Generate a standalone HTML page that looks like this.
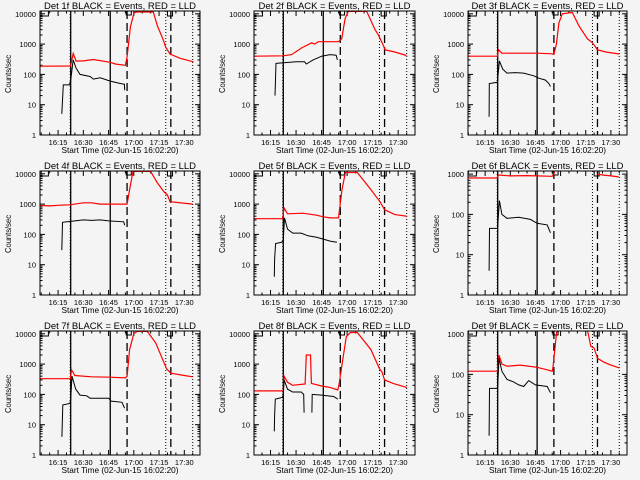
<!DOCTYPE html>
<html><head><meta charset="utf-8"><style>
html,body{margin:0;padding:0;background:#f4f4f4;}
svg{display:block;font-family:"Liberation Sans",sans-serif;}
</style></head><body>
<svg id="chart" width="640" height="480" viewBox="0 0 640 480">
<rect x="0" y="0" width="640" height="480" fill="#f4f4f4"/>
</svg>
<script>
// ---- data (time in minutes after 16:00, values in counts/sec) ----
const detectors = ["1f","2f","3f","4f","5f","6f","7f","8f","9f"];
const tickTimes = [15,30,45,60,75,90];
const tickLabels = ["16:15","16:30","16:45","17:00","17:15","17:30"];
const markerSolid = [22.5,46];
const markerDashed = [56,82];
const markerDotted = [22.2,79,95];
const decadesP = [4,4,4,4,4,3,4,4,3];

const redT1=[4.3,22,22.5,24,25.7,30,36,46,49,55,56,58,60,61,71.6,74,77.6,78.9,81.5,87.5,95.4];
const redV1=[186,190,200,490,275,280,310,250,220,200,380,3700,10000,11500,11500,4000,1350,800,470,340,260];
const blkT1=[17.2,18.1,21.7,22.5,24,25.7,28,34,36,40,46,52,54.4,54.6];
const blkV1=[5,45,45,65,300,160,100,85,70,77,60,50,47,30];

const redT2=[5.3,22.5,27.4,33.3,39.2,41,43,54.9,56.8,58.8,60.7,71.5,76.4,78.4,81.3,82.3,88,94.9];
const redV2=[400,410,450,750,1100,1000,1200,1200,1500,7000,12000,12000,3000,2000,900,650,550,420];
const blkT2=[17.6,18.2,22,30,35,36,40,45,50,53.5,54.3];
const blkV2=[20,230,240,260,260,220,300,400,450,430,300];

const redT3=[4.8,22.3,23,25,46,55,56,57.5,59,61,67,71,76,79,82,87,95];
const redV3=[400,400,650,500,500,480,460,1000,5000,10000,11000,4000,1500,1100,650,550,470];
const blkT3=[17.4,17.5,22.3,22.5,23.5,25.5,28,33,38,44,47,51,53,54];
const blkV3=[4,50,55,70,280,150,110,115,110,90,75,65,50,40];

const redT4=[4.3,10,16,22,30,35,40,56,57.5,59.5,70,74,78,80,81.5,95];
const redV4=[900,870,920,950,1100,1100,1000,1000,3000,12000,12000,5000,2500,2000,1200,1000];
const blkT4=[17.2,17.6,25,30,35,40,45,54,54.6];
const blkV4=[30,250,280,300,290,300,280,260,200];

const redT5=[5.3,22,22.3,23,25,34,42,46,50,55,55.2,57,59,66,74,78,79.3,82,88,95];
const redV5=[330,330,400,750,480,500,430,380,350,350,450,3000,11000,11000,3000,1500,1200,650,450,400];
const blkT5=[17.2,17.4,18,21.5,22.5,23.2,25,28,33,37,42,46,50,54];
const blkV5=[4,15,50,55,65,350,150,110,110,90,80,70,60,55];

const redT6=[4.8,22,23,30,40,55,56,56.5,null,81.9,85,90,94.6];
const redV6=[800,800,950,900,920,880,1000,1300,null,1000,950,900,850];
const blkT6=[17.4,17.6,22.3,22.5,23.5,25,28,35,42,46,52,54];
const blkV6=[4,45,45,50,220,100,80,85,75,60,55,35];

const redT7=[4.3,22.3,23,25,35,46,55,56,57.5,60,62,68,73,77,79.5,82,90,95];
const redV7=[330,330,650,420,380,370,350,400,3000,10000,12000,12000,5000,1500,700,500,420,380];
const blkT7=[17.3,17.8,22,22.5,23.3,25.5,28,32,34,45,46.5,53,54.5];
const blkV7=[4,45,50,70,400,150,95,90,75,75,60,55,35];

const redT8=[5.3,22,22.5,23,25,28,35,35.3,36,38.5,39,45,50,54.5,55.2,57.5,59.5,62,66,74,79,80.5,82,87,95];
const redV8=[130,130,140,400,250,200,220,220,2000,2000,230,190,170,140,200,1500,8000,11000,11000,3000,700,550,300,230,170];
const blkT8=[17.2,17.4,17.8,22,22.5,23,25,28,33,34.5,34.7,null,39.3,39.5,45,52,54.5];
const blkV8=[6,20,70,80,100,300,150,120,120,100,25,null,25,100,95,85,70];

const redT9=[4.8,22.3,22.5,23.3,25,28,36,46,52,55,55.5,57.5,58,null,75.8,76.5,78,80,82,86,90,95];
const redV9=[120,120,130,300,180,160,170,150,130,120,150,1000,1300,null,1300,1000,500,450,250,200,170,145];
const blkT9=[17.4,17.6,22,22.5,23.3,25,28,32,35,38,41,45,52,54];
const blkV9=[3,45,45,50,250,120,75,65,55,50,70,55,50,35];

const redTimes=[redT1,redT2,redT3,redT4,redT5,redT6,redT7,redT8,redT9];
const redVals=[redV1,redV2,redV3,redV4,redV5,redV6,redV7,redV8,redV9];
const blkTimes=[blkT1,blkT2,blkT3,blkT4,blkT5,blkT6,blkT7,blkT8,blkT9];
const blkVals=[blkV1,blkV2,blkV3,blkV4,blkV5,blkV6,blkV7,blkV8,blkV9];

// ---- layout ----
const colLeft=[40,254,468], colRight=[200,415,627], colTmin=[4.26,5.29,4.79];
const svg=document.getElementById('chart');
const NS='http://www.w3.org/2000/svg';
function mk(tag,attrs,parent){const e=document.createElementNS(NS,tag);for(const k in attrs)e.setAttribute(k,attrs[k]);(parent||svg).appendChild(e);return e;}

for(let p=0;p<9;p++){
  const col=p%3,row=Math.floor(p/3),oy=row*160;
  const L=colLeft[col],R=colRight[col],T=oy+11,B=oy+135;
  const tmin=colTmin[col],tmax=tmin+(R-L)/((col==1)?1.702:(col==0?1.683:1.677));
  const dec=decadesP[p];
  const perDec=(dec==4)?30.3:40.3;
  const xs=t=>L+(t-tmin)/(tmax-tmin)*(R-L);
  const ys=v=>B-Math.log10(v)*perDec;
  const g=mk('g',{});
  
  
  const cid='clip'+p;
  const cp=mk('clipPath',{id:cid},g);mk('rect',{x:L,y:T,width:R-L,height:B-T},cp);

  const title=mk('text',{x:(L+R)/2,y:oy+9,'text-anchor':'middle','font-size':'9.5',textLength:152,lengthAdjust:'spacingAndGlyphs',fill:'#000'},g);
  title.textContent='Det '+detectors[p]+' BLACK = Events, RED = LLD';
  
  

  const yt=mk('text',{x:0,y:0,'text-anchor':'middle','font-size':'8',textLength:38,lengthAdjust:'spacingAndGlyphs',transform:`translate(${L-29},${oy+74}) rotate(-90)`},g);
  yt.textContent='Counts/sec';
  
  

  const xt=mk('text',{x:(L+R)/2,y:oy+153,'text-anchor':'middle','font-size':'8.5',textLength:117,lengthAdjust:'spacingAndGlyphs'},g);
  xt.textContent='Start Time (02-Jun-15 16:02:20)';
  
  

  // y ticks
  for(let d=0;d<=dec;d++){
    const y=ys(Math.pow(10,d));
    mk('line',{x1:L,x2:L+5,y1:y,y2:y,stroke:'#000','stroke-width':1},g);
    mk('line',{x1:R,x2:R-5,y1:y,y2:y,stroke:'#000','stroke-width':1},g);
    const lab=mk('text',{x:L-4,y:y+3,'text-anchor':'end','font-size':'7.5'},g);
    lab.textContent=String(Math.pow(10,d));
    
    
    if(d<dec){for(let m=2;m<=9;m++){const yy=ys(m*Math.pow(10,d));
      mk('line',{x1:L,x2:L+2.5,y1:yy,y2:yy,stroke:'#000','stroke-width':1},g);
      mk('line',{x1:R,x2:R-2.5,y1:yy,y2:yy,stroke:'#000','stroke-width':1},g);}}
  }
  // x ticks
  for(let t=0;t<=tmax;t+=5){ if(t<tmin)continue; const x=xs(t); const big=tickTimes.indexOf(t)>=0;
    const len=big?5:2.5;
    mk('line',{x1:x,x2:x,y1:B,y2:B-len,stroke:'#000','stroke-width':1},g);
    mk('line',{x1:x,x2:x,y1:T,y2:T+len,stroke:'#000','stroke-width':1},g);}
  tickTimes.forEach((t,i)=>{const lab=mk('text',{x:xs(t),y:oy+145,'text-anchor':'middle','font-size':'7.5'},g);
    lab.textContent=tickLabels[i];
    
    });

  // markers
  markerSolid.forEach(t=>{const l=mk('line',{x1:xs(t),x2:xs(t),y1:T,y2:B,stroke:'#000','stroke-width':1.3},g);
    
    });
  markerDashed.forEach(t=>{const l=mk('line',{x1:xs(t),x2:xs(t),y1:T,y2:B,stroke:'#000','stroke-width':1.3,'stroke-dasharray':'8,4'},g);
    
    });
  markerDotted.forEach(t=>{const l=mk('line',{x1:xs(t),x2:xs(t),y1:T,y2:B,stroke:'#000','stroke-width':1,'stroke-dasharray':'1,2'},g);
    
    });

  // top bracket shapes
  const br=mk('path',{d:`M${L} ${T+5}H${xs(tmin+5)}V${T} M${xs(55.5)} ${T}V${T+4}H${xs(58.5)}V${T} M${xs(80)} ${T}V${T+5}H${xs(83)}V${T}`,fill:'none',stroke:'#000','stroke-width':1},g);
  
  

  // series
  function path(ts,vs){let d='',pen=false;for(let i=0;i<ts.length;i++){if(ts[i]===null){pen=false;continue;}
      d+=(pen?'L':'M')+xs(ts[i]).toFixed(1)+' '+ys(vs[i]).toFixed(1);pen=true;}return d;}
  const red=mk('path',{d:path(redTimes[p],redVals[p]),fill:'none',stroke:'#ff0000','stroke-width':1.2,'clip-path':`url(#${cid})`},g);
  
  
  const blk=mk('path',{d:path(blkTimes[p],blkVals[p]),fill:'none',stroke:'#000','stroke-width':1,'clip-path':`url(#${cid})`},g);
  
  

  const box=mk('rect',{x:L,y:T,width:R-L,height:B-T,fill:'none',stroke:'#000','stroke-width':1},g);
  
  
}
</script>
</body></html>
